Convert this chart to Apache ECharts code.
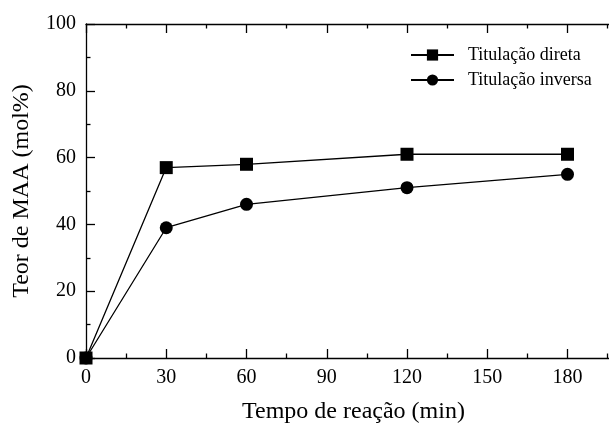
<!DOCTYPE html>
<html><head><meta charset="utf-8">
<script src="https://cdn.jsdelivr.net/npm/echarts@6/dist/echarts.min.js"></script>
<style>html,body{margin:0;padding:0;background:#fff}#c{width:609px;height:423px}</style>
</head><body><div id="c"></div>
<script>
const times = [0, 30, 60, 120, 180];
const direta = [0, 57, 58, 61, 61];
const inversa = [0, 39, 46, 51, 55];
const seriesNames = ['Titulação direta', 'Titulação inversa'];
const xTitle = 'Tempo de reação (min)';
const yTitle = 'Teor de MAA (mol%)';

const font = 'Liberation Serif';
const chart = echarts.init(document.getElementById('c'));
const tickCommon = {
  axisLine: {show: true, lineStyle: {color: '#000', width: 1.3}},
  axisTick: {show: true, inside: true, length: 9, lineStyle: {color: '#000', width: 1.3}},
  minorTick: {show: true, splitNumber: 2, length: 4.5, lineStyle: {color: '#000', width: 1.3}},
  splitLine: {show: false}
};
chart.setOption({
  animation: false,
  backgroundColor: '#fff',
  grid: {left: 86, top: 24, width: 535, height: 334, outerBoundsMode: 'none', containLabel: false},
  legend: {
    orient: 'vertical', left: 405, top: 41, itemWidth: 43, itemHeight: 14, itemGap: 7,
    textStyle: {fontFamily: font, fontSize: 18, color: '#000', padding: [0,0,0,9]},
    data: seriesNames
  },
  xAxis: [
    Object.assign({type: 'value', min: 0, max: 200, interval: 30, position: 'bottom',
      name: xTitle, nameLocation: 'middle', nameGap: 42,
      nameTextStyle: {fontFamily: font, fontSize: 24, color: '#000'},
      axisLabel: {fontFamily: font, fontSize: 20, color: '#000', margin: 10,
        formatter: v => (v === 200 ? '' : String(v))}}, tickCommon),
    Object.assign({type: 'value', min: 0, max: 200, interval: 30, position: 'top',
      axisLabel: {show: false}}, tickCommon)
  ],
  yAxis: [
    Object.assign({type: 'value', min: 0, max: 100, interval: 20, position: 'left',
      name: yTitle, nameLocation: 'middle', nameGap: 52,
      nameTextStyle: {fontFamily: font, fontSize: 24, color: '#000'},
      axisLabel: {fontFamily: font, fontSize: 20, color: '#000', margin: 10}}, tickCommon)
  ],
  series: [
    {name: seriesNames[1], type: 'line', data: times.map((t, i) => [t, inversa[i]]),
     symbol: 'circle', symbolSize: 13, itemStyle: {color: '#000'},
     lineStyle: {color: '#000', width: 1.3}, z: 2},
    {name: seriesNames[0], type: 'line', data: times.map((t, i) => [t, direta[i]]),
     symbol: 'rect', symbolSize: 13, itemStyle: {color: '#000'},
     lineStyle: {color: '#000', width: 1.3}, z: 3}
  ]
});
</script></body></html>
